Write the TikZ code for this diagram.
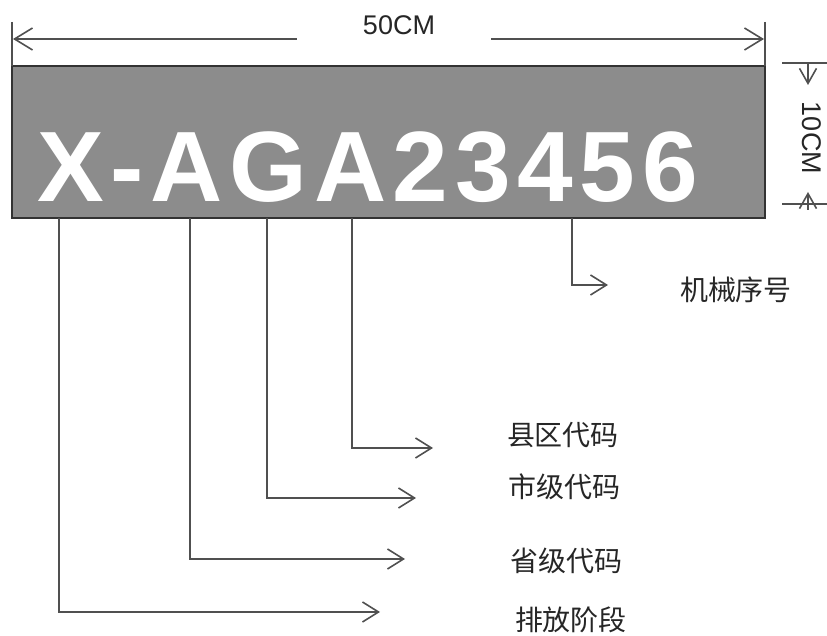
\documentclass[tikz,border=0pt]{standalone}
\usepackage{fontspec}
\setmainfont{Liberation Sans}
\newfontfamily\cjk{Noto Sans CJK SC}
\newfontfamily\platefont[LetterSpace=6.7]{Liberation Sans Bold}
\usetikzlibrary{arrows.meta}
\definecolor{plategray}{RGB}{140,140,140}
\definecolor{linegray}{RGB}{80,80,80}

\begin{document}
\begin{tikzpicture}[x=0.5pt,y=-0.5pt,
  dimline/.style={draw=linegray,line width=0.8pt},
  dimarrow/.style={dimline,-{Straight Barb[length=9pt,width=11pt]}},
  smallarrow/.style={dimline,-{Straight Barb[length=7.5pt,width=8.5pt]}},
  conn/.style={dimline,-{Straight Barb[length=8pt,width=10pt]}},
  cnlabel/.style={font=\cjk\fontsize{14}{16}\selectfont,text=black!85,inner sep=0pt},
  dimlabel/.style={font=\fontsize{13.5}{16}\selectfont,text=black!85,inner sep=0pt}]
  \useasboundingbox (0,0) rectangle (827,636);

  \begin{scope}
    % plate
    \draw[fill=plategray,draw=black!80,line width=0.6pt] (12,66) rectangle (765,218);
    \node[anchor=base west,font=\platefont\fontsize{50}{60}\selectfont,text=white,inner sep=0pt] (plate) at (37,202) {X-AGA23456};

    % width 50CM
    \draw[dimline] (12,22) -- (12,66);
    \draw[dimline] (765,22) -- (765,66);
    \node[dimlabel] (width) at (399,25) {50CM};
    \coordinate (wl) at (13,39);
    \coordinate (wr) at (764,39);
    \draw[dimarrow] ([xshift=-33pt]width.west |- wl) -- (wl);
    \draw[dimarrow] ([xshift=28pt]width.east |- wr) -- (wr);

    % height 10CM
    \draw[dimline] (782,63) -- (827,63);
    \draw[dimline] (782,204) -- (827,204);
    \node[dimlabel,rotate=-90] (height) at (812,138) {10CM};
    \coordinate (ht) at (808,63);
    \coordinate (htip) at (808,85);
    \coordinate (hb) at (808,210);
    \coordinate (hbtip) at (808,192);
    \draw[smallarrow] (ht) -- (htip);
    \draw[smallarrow] (hb) -- (hbtip);

    % labels
    \node[cnlabel] (serial) at (736,290) {机械序号};
    \node[cnlabel] (county) at (563,435) {县区代码};
    \node[cnlabel] (city) at (565,487) {市级代码};
    \node[cnlabel] (prov) at (566,561) {省级代码};
    \node[cnlabel] (stage) at (571,620) {排放阶段};

    % connectors
    \coordinate (serial-s) at (572,218);
    \coordinate (serial-t) at (608,285);
    \coordinate (county-s) at (352,218);
    \coordinate (county-t) at (433,448);
    \coordinate (city-s) at (267,218);
    \coordinate (city-t) at (416,498);
    \coordinate (prov-s) at (190,218);
    \coordinate (prov-t) at (405,559);
    \coordinate (stage-s) at (59,218);
    \coordinate (stage-t) at (380,612);
    \draw[conn] (serial-s) |- (serial-t);
    \draw[conn] (county-s) |- (county-t);
    \draw[conn] (city-s) |- (city-t);
    \draw[conn] (prov-s) |- (prov-t);
    \draw[conn] (stage-s) |- (stage-t);
  \end{scope}
\end{tikzpicture}
\end{document}
